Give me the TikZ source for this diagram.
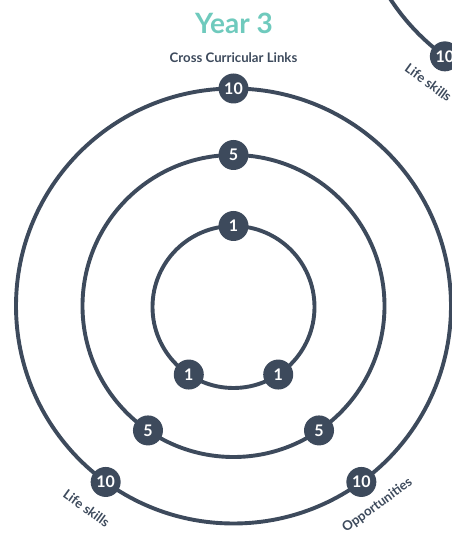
\documentclass[tikz,border=0pt]{standalone}
\usepackage{fontspec}
\usetikzlibrary{calc}
\setmainfont{Lato}
\definecolor{slate}{HTML}{3D4A5C}
\definecolor{teal3}{HTML}{6FCABD}
\begin{document}
\begin{tikzpicture}[x=1pt,y=1pt,
  ring/.style={draw=slate,line width=3.9pt},
  badge/.style={circle,fill=slate,draw=none,minimum size=30pt,inner sep=0pt,text=white,font=\fontsize{16}{16}\selectfont\bfseries},
  lbl/.style={text=slate,font=\fontsize{13.2}{14}\selectfont\bfseries}]
\useasboundingbox (0,0) rectangle (452,535);
\clip (0,0) rectangle (452,535);
\coordinate (c) at (233.5,229);
\coordinate (ci) at (233.5,228);
\coordinate (c2) at (573,655);
% rings
\draw[ring] (c) circle[radius=217.5];
\draw[ring] (c) circle[radius=151];
\draw[ring] (ci) circle[radius=81];
\draw[ring] (c2) circle[radius=218];
% badges
\node[badge] (o1) at ($(c)+(90:217.5)$) {10};
\node[badge] (o2) at ($(c)+(234:217.5)$) {10};
\node[badge] (o3) at ($(c)+(306:217.5)$) {10};
\node[badge] (m1) at ($(c)+(90:151)$) {5};
\node[badge] (m2) at ($(c)+(235.5:151)$) {5};
\node[badge] (m3) at ($(c)+(304.5:151)$) {5};
\node[badge] (i1) at ($(ci)+(90:81)$) {1};
\node[badge] (i2) at ($(ci)+(236.5:81)$) {1};
\node[badge] (i3) at ($(ci)+(303.5:81)$) {1};
\node[badge] (p1) at ($(c2)+(234:218)$) {10};
% labels
\node[text=teal3,font=\fontsize{28}{30}\selectfont\bfseries] (title) at (234,512) {Year 3};
\node[lbl] (lcc) at ($(c)+(90:248)$) {Cross Curricular Links};
\node[lbl,rotate=-36] (lls) at ($(c)+(234:250)$) {Life skills};
\node[lbl,rotate=36] (lop) at ($(c)+(305.8:246)$) {Opportunities};
\node[lbl,rotate=-36] (lls2) at ($(c2)+(234.5:249)$) {Life skills};
\end{tikzpicture}
\end{document}
